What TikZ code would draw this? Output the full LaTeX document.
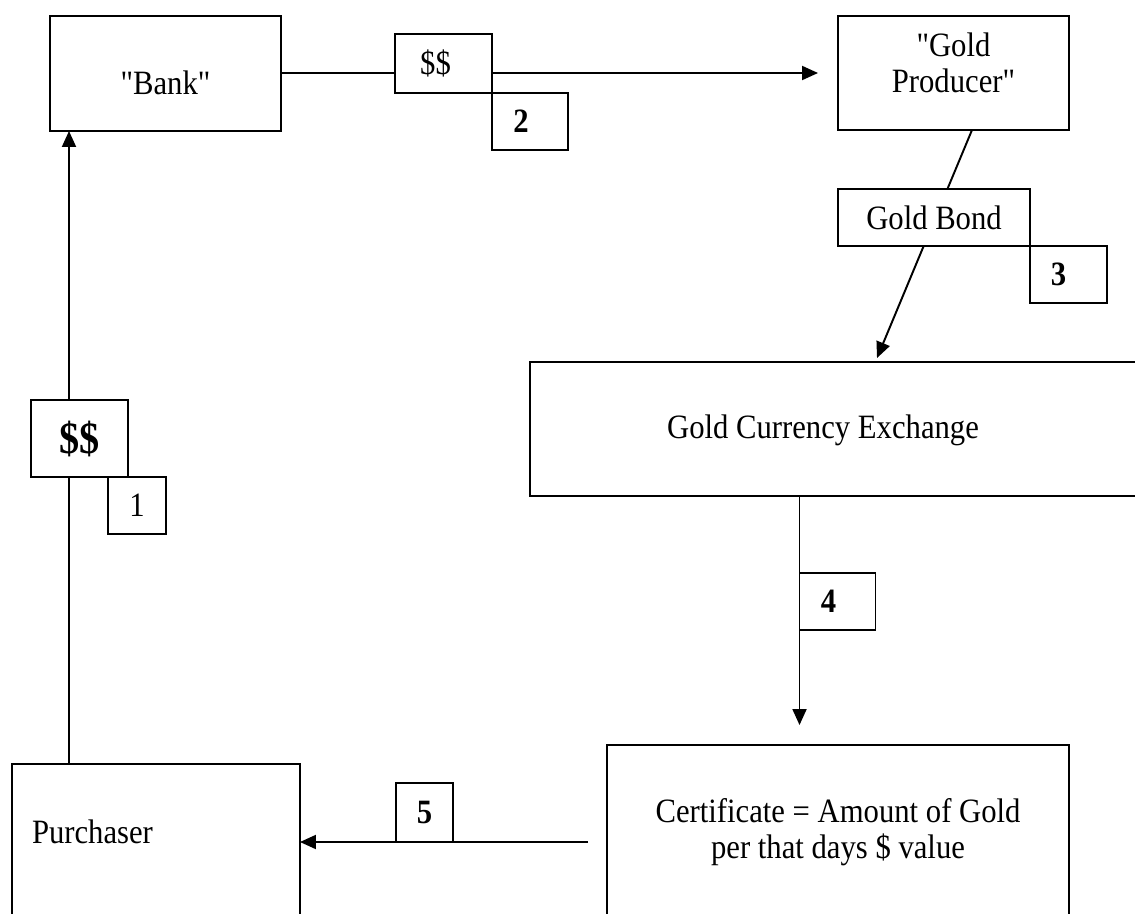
\documentclass[tikz,border=0pt]{standalone}
\usepackage{fontspec}
\setmainfont{Liberation Serif}[Ligatures=TeXOff, FakeStretch=0.9]
\usetikzlibrary{arrows.meta,calc,backgrounds}
\begin{document}
\fontsize{19.4}{20.5}\selectfont
\begin{tikzpicture}[x=0.02cm, y=-0.02cm, line width=1.1pt,
    >={Triangle[length=0.32cm,width=0.28cm]},
    box/.style={draw, fill=white, inner sep=0pt, outer sep=0pt},
    txt/.style={inner sep=0pt, outer sep=0pt},
    tag/.style={box, minimum width=1.52cm, minimum height=1.14cm, font=\bfseries},
    flow/.style={->, line width=1.1pt}]
    \clip (0,0) rectangle (1135,913);

    % Boxes
    \node[box, minimum width=4.62cm, minimum height=2.30cm] (bank) at (165.5,73.5) {};
    \node[txt] (banktxt) at ($(bank.center)+(0,9)$) {"Bank"};
    \node[box, minimum width=4.62cm, minimum height=2.28cm] (prod) at (953.5,73) {};
    \node[txt, align=center, anchor=north] (prodtxt) at ($(prod.north)+(0,17)$) {"Gold\\Producer"};
    \node[box, minimum width=3.84cm, minimum height=1.14cm] (bond) at (934,217.5) {Gold Bond};
    \node[box, minimum width=12.2cm, minimum height=2.68cm] (gce) at (835,429) {};
    \node[txt] (gcetxt) at (823,430) {Gold Currency Exchange};
    \node[box, minimum width=9.24cm, minimum height=3.7cm] (cert) at (838,837.5) {};
    \node[txt, align=center] (certtxt) at (838,832) {Certificate = Amount of Gold\\per that days \$ value};
    \node[box, minimum width=5.76cm, minimum height=3.32cm] (purch) at (156,847) {};
    \node[txt, anchor=west] (purchtxt) at (32,832) {Purchaser};

    % Tags on the flows
    \node[box, minimum width=1.94cm, minimum height=1.18cm] (dolA) at (443.5,63.5) {\hspace*{-0.32cm}\$\$};
    \node[tag] (tag2) at (530,121.5) {\hspace*{-0.36cm}2};
    \node[tag, minimum width=1.54cm] (tag3) at (1068.5,274.5) {\hspace*{-0.4cm}3};
    \node[tag] (tag4) at (837.5,601.5) {\hspace*{-0.36cm}4};
    \node[box, minimum width=1.94cm, minimum height=1.54cm, font=\fontsize{25.5}{28}\selectfont\bfseries] (dolB) at (79.5,438.5) {\$\$};
    \node[box, minimum width=1.16cm, minimum height=1.14cm] (tag1) at (137,505.5) {1};
    \node[tag, minimum width=1.14cm, minimum height=1.18cm] (tag5) at (424.5,812.5) {5};

    % Flows
    \coordinate (yb) at (0,73);
    \coordinate (xv) at (69,0);
    \begin{pgfonlayer}{background}
        \draw[flow] (bank.east |- yb) -- ($(prod.west |- yb)+(-20,0)$);
        \draw[flow] ($(prod.south)+(18.5,0)$) -- ($(gce.north)+(42,-4)$);
        \draw[flow] (gce.south -| tag4.west) -- ($(cert.north -| tag4.west)+(0,-20)$);
        \draw[flow] ($(cert.west |- tag5.south)+(-19,0)$) -- (purch.east |- tag5.south);
        \draw[flow] (purch.north -| xv) -- (bank.south -| xv);
    \end{pgfonlayer}
\end{tikzpicture}
\end{document}
